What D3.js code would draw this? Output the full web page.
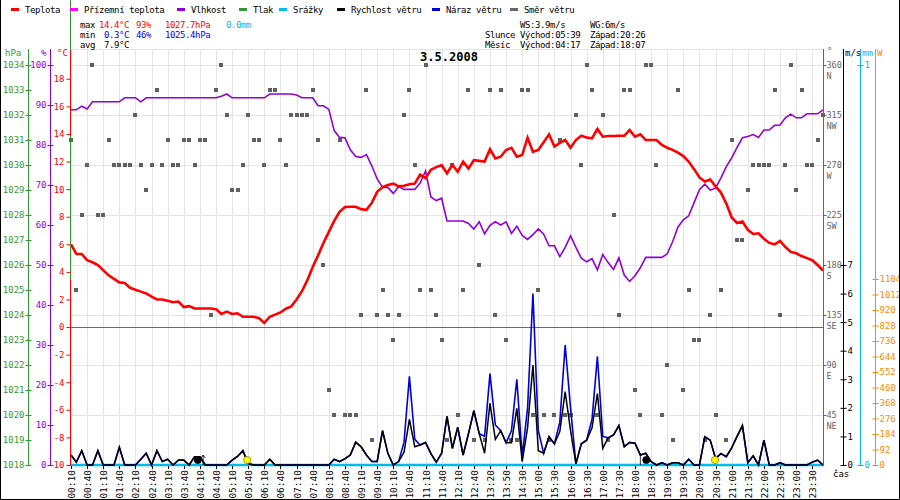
<!DOCTYPE html>
<html>
<head>
<meta charset="utf-8">
<script src="https://cdn.jsdelivr.net/npm/d3@7"></script>
<style>
body { margin: 0; background: #fff; }
svg { display: block; font-family: "DejaVu Sans Mono", monospace; }
</style>
</head>
<body>
<div id="chart"></div>
<script>
// x-axis labels (one every 3 records)
const timeLabels = ["00:10","00:40","01:10","01:40","02:10","02:40","03:10","03:40","04:10","04:40",
  "05:10","05:40","06:10","06:40","07:10","07:40","08:10","08:40","09:10","09:40","10:10","10:40",
  "11:10","11:40","12:10","12:40","13:20","13:50","14:30","15:00","15:30","16:00","16:30","17:00",
  "17:30","18:00","18:30","19:00","19:30","20:00","20:30","21:00","21:30","22:00","22:30","23:00","23:30"];

// °C, one value per record
const temperature = [6.0,5.3,5.3,4.85,4.7,4.5,4.13,3.75,3.5,3.24,
  3.2,2.85,2.7,2.57,2.44,2.2,2.0,2.0,1.9,1.8,
  1.85,1.45,1.52,1.35,1.35,1.35,1.35,1.3,0.95,1.12,
  0.95,1.0,0.75,0.75,0.75,0.65,0.3,0.75,0.9,1.06,
  1.33,1.5,2.0,2.6,3.4,4.35,5.2,6.1,6.9,7.7,
  8.36,8.7,8.72,8.72,8.55,8.5,9.0,9.8,10.15,10.3,
  10.4,10.2,10.25,10.35,10.4,11.05,10.8,11.4,11.6,11.75,
  11.15,11.75,11.26,11.99,11.5,12.1,12.05,12.0,12.9,12.23,
  12.35,12.84,13.0,12.35,12.47,13.73,12.71,12.84,13.4,13.97,
  13.08,13.35,13.56,13.0,13.56,13.87,13.75,13.68,14.36,13.8,
  13.85,13.85,13.87,13.87,14.29,13.8,13.97,13.56,13.56,13.56,
  13.2,13.0,12.85,12.65,12.4,12.0,11.45,10.85,10.55,10.7,
  10.2,9.75,8.95,7.95,7.55,7.65,7.05,6.75,6.8,6.4,
  6.1,6.0,6.25,5.8,5.45,5.35,5.15,5.0,4.85,4.5,
  4.1];

// %, one value per record
const humidity = [88.8,88.8,89.7,89.0,90.8,90.8,90.8,90.8,90.8,90.8,
  91.8,91.8,91.8,90.8,91.8,91.8,91.8,91.8,91.8,91.8,
  91.8,91.8,91.8,91.8,91.8,91.8,91.8,91.8,92.2,92.75,
  91.8,91.8,91.8,91.8,91.8,91.8,91.8,92.75,92.75,92.75,
  92.75,92.75,92.5,91.8,91.8,91.8,89.8,89.8,88.9,83.6,
  81.9,81.8,78.8,77.1,76.9,77.6,74.8,71.5,69.4,69.4,
  67.9,69.6,68.9,68.9,68.9,70.5,73.5,67.0,66.1,66.7,
  61,61,61,61,60.4,59,60.8,57.8,59.9,60.8,
  60,60.8,57.9,59.7,57.4,56.4,57.6,59,57.7,54.8,
  54.8,52.1,54.4,57.3,54.4,51.7,50.8,51.6,48.8,52.6,
  50.6,48.9,51.8,47.5,45.9,47.3,49.3,51.9,51.9,51.9,
  51.9,52.8,55.8,59.5,61.3,62.3,65.6,68.8,70.2,68.75,
  69.2,71.8,74.6,76.8,79.4,81.8,82.1,82.6,81.9,83.75,
  83.75,84.9,85,86.8,87.7,86.8,86.8,87.8,87.8,87.8,
  88.8];

// m/s
const windSpeed = [0.35,0.1,0.5,0,0,0.5,0,0,0,0.62,
  0,0,0,0.2,0.41,0,0.5,0.12,0.2,0,
  0.17,0.17,0,0.29,0.29,0,0,0,0,0,
  0.17,0.3,0.5,0.05,0,0,0,0.2,0,0,
  0,0,0,0,0,0,0,0,0,0.2,
  0.12,0.22,0.35,0.8,0.64,0.35,0.12,0.12,1.2,0.4,
  0,0.12,0.45,1.6,0.64,0.7,0.79,0.4,0.1,0.41,
  1.7,0.58,1.32,0.35,1.1,1.9,1.1,0.41,2.16,0.9,
  1.2,0.78,0.78,1.98,0.12,1.3,3.5,0.5,0.41,0.99,
  0.74,1.17,2.57,1.2,0.04,0.74,0.87,1.3,2.5,0.58,
  0.95,1.05,1.38,0.64,0.79,0.76,0.35,0.41,0.12,0,
  0.08,0,0.08,0.08,0,0.2,0,0,0.99,0.87,
  0.23,0.4,0.29,0.6,1.0,1.38,0.08,0.32,0,0.87,
  0,0,0.08,0,0,0,0,0,0.1,0.17,
  0];

const windGust = [0.35,0.1,0.5,0,0,0.5,0,0,0,0.62,
  0,0,0,0.2,0.41,0,0.5,0.12,0.2,0,
  0.17,0.17,0,0.29,0.29,0,0,0,0,0,
  0.17,0.3,0.5,0.05,0,0,0,0.2,0,0,
  0,0,0,0,0,0,0,0,0,0.2,
  0.12,0.22,0.35,0.8,0.64,0.35,0.12,0.12,1.2,0.4,
  0,0.12,0.8,3.1,0.9,0.7,0.79,0.4,0.1,0.41,
  1.7,0.58,1.32,0.35,1.1,1.9,1.1,1.0,3.2,1.4,
  1.2,0.78,1.2,3.0,0.3,2.0,6.0,1.2,0.41,0.99,
  0.74,1.5,4.2,2.0,0.04,0.74,0.87,1.6,3.8,1.0,
  0.95,1.05,1.38,0.64,0.79,0.76,0.35,0.41,0.12,0,
  0.08,0,0.08,0.08,0,0.2,0,0,0.99,0.87,
  0.23,0.4,0.29,0.6,1.0,1.38,0.08,0.32,0,0.87,
  0,0,0.08,0,0,0,0,0,0.1,0.17,
  0];

// degrees
const windDir = [292.5,157.5,225,270,360,225,225,292.5,270,270,
  270,270,315,270,247.5,270,337.5,270,292.5,270,
  270,292.5,292.5,270,292.5,292.5,135,337.5,360,315,
  247.5,247.5,270,315,292.5,292.5,270,337.5,337.5,292.5,
  270,315,315,315,315,337.5,292.5,180,67.5,45,
  292.5,45,45,45,135,337.5,22.5,135,157.5,135,
  112.5,135,315,337.5,270,157.5,360,157.5,135,112.5,
  22.5,270,45,157.5,337.5,22.5,180,22.5,337.5,135,
  337.5,112.5,22.5,22.5,337.5,337.5,45,157.5,45,22.5,
  45,292.5,45,45,315,270,360,337.5,45,315,
  22.5,225,135,337.5,337.5,67.5,45,360,360,270,
  45,90,22.5,337.5,67.5,157.5,112.5,112.5,22.5,135,
  45,157.5,22.5,292.5,202.5,202.5,247.5,270,270,270,
  270,337.5,135,270,360,247.5,337.5,270,270,292.5,
  315];

const groundTemp = 0;          // flat ground temperature line
const rainTotal = 0;           // mm
const pressureMin = 1025.4;

// sun / moon rise and set (record index)
const sunMoonAt = [23.6, 32.8, 107.1, 119.9];
const sunMoonKind = ["moon", "sun", "moon", "sun"];

const legendNames = ["Teplota","Přízemní teplota","Vlhkost","Tlak","Srážky","Rychlost větru","Náraz větru","Směr větru"];
const legendColors = ["#ff0000","#ff00ff","#9400d3","#339933","#00bbee","#000000","#0000dd","#666666"];

const statLabels = ["max","min","avg"];
const statTemp = ["14.4°C","0.3°C","7.9°C"];
const statHum = ["93%","46%",""];
const statPress = ["1027.7hPa","1025.4hPa",""];
const statRain = ["0.0mm","",""];
const statColors = ["#ff0000","#0000ff","#000000"];

const dirTicks = [45,90,135,180,225,270,315,360];
const dirNames = ["NE","E","SE","S","SW","W","NW","N"];
const solarTicks = [0,92,184,276,368,460,552,644,736,828,920,1012,1104];

const W = 900, H = 500;
const svg = d3.select("#chart").append("svg").attr("width", W).attr("height", H);

const x = d3.scaleLinear().domain([0, temperature.length - 1]).range([71, 823]);
const yT = d3.scaleLinear().domain([-10, 19]).range([465, 65]);
const yH = d3.scaleLinear().domain([0, 100]).range([465, 65]);
const yP = d3.scaleLinear().domain([1018, 1034]).range([465, 65]);
const yD = d3.scaleLinear().domain([0, 360]).range([465, 65]);
const yWs = d3.scaleLinear().domain([0, 7]).range([465, 265]);
const yR = d3.scaleLinear().domain([0, 1]).range([465, 65]);
const yS = d3.scaleLinear().domain([0, 1104]).range([465, 279]);

const FS = "9px";

// grid
const grid = svg.append("g").attr("stroke", "#e4e4e4").attr("stroke-width", 1);
timeLabels.forEach((t, k) => {
  const xx = Math.round(x(k * 3)) + 0.5;
  grid.append("line").attr("x1", xx).attr("x2", xx).attr("y1", 49).attr("y2", 465);
});
[0].concat(dirTicks).forEach(d => {
  const yy = Math.round(yD(d)) + 0.5;
  grid.append("line").attr("x1", 70).attr("x2", 823).attr("y1", yy).attr("y2", yy);
});
grid.append("line").attr("x1", 70).attr("x2", 823).attr("y1", 49.5).attr("y2", 49.5);

// wind direction squares
svg.append("g").selectAll("rect").data(windDir).join("rect")
  .attr("x", (d, i) => Math.round(x(i)) - 2)
  .attr("y", d => Math.round(yD(d)) - 2)
  .attr("width", 4).attr("height", 4)
  .attr("fill", "#606060");

// ground temperature (flat at 0)
svg.append("line")
  .attr("x1", 70).attr("x2", 823)
  .attr("y1", Math.round(yT(groundTemp)) + 0.5).attr("y2", Math.round(yT(groundTemp)) + 0.5)
  .attr("stroke", "#ff00ff").attr("stroke-width", 1);

// rain line at zero
svg.append("line")
  .attr("x1", 70).attr("x2", 823)
  .attr("y1", yR(rainTotal)).attr("y2", yR(rainTotal))
  .attr("stroke", "#00bbee").attr("stroke-width", 2.5);

const lineOf = (arr, ys) => d3.line().x((d, i) => x(i)).y(d => ys(d))(arr);

svg.append("path").attr("d", lineOf(windGust, yWs))
  .attr("fill", "none").attr("stroke", "#0000dd").attr("stroke-width", 1.6);
svg.append("path").attr("d", lineOf(windSpeed, yWs))
  .attr("fill", "none").attr("stroke", "#000").attr("stroke-width", 1.5);
svg.append("path").attr("d", lineOf(humidity, yH))
  .attr("fill", "none").attr("stroke", "#9400d3").attr("stroke-width", 1.6);
svg.append("path").attr("d", lineOf(temperature, yT))
  .attr("fill", "none").attr("stroke", "#ff0000").attr("stroke-width", 2.6);

// sun / moon markers
sunMoonAt.forEach((t, i) => {
  svg.append("circle").attr("cx", x(t)).attr("cy", 460).attr("r", 3.6)
    .attr("fill", sunMoonKind[i] === "sun" ? "#ffff00" : "#000")
    .attr("stroke", sunMoonKind[i] === "sun" ? "#888800" : "#000").attr("stroke-width", 0.8);
});
svg.append("path").attr("d", `M${x(24.6)},465V455M${x(24.6) - 2},458L${x(24.6)},455L${x(24.6) + 2},458`)
  .attr("stroke", "#000").attr("fill", "none").attr("stroke-width", 0.8);
svg.append("path").attr("d", `M${x(106)},453V465`)
  .attr("stroke", "#000").attr("fill", "none").attr("stroke-width", 0.8);

// left axes
function leftAxis(scale, ticks, ax, color, size, fmt) {
  const g = svg.append("g").attr("transform", `translate(${ax + size / 2},0)`)
    .call(d3.axisLeft(scale).tickValues(ticks).tickSize(size).tickPadding(1).tickFormat(fmt));
  g.attr("font-family", null).attr("font-size", FS);
  g.select(".domain").remove();
  g.selectAll("line").attr("stroke", color);
  g.selectAll("text").attr("fill", color);
  return g;
}
// pressure stub
svg.append("line").attr("x1", 70.5).attr("x2", 70.5).attr("y1", 0).attr("y2", yP(pressureMin))
  .attr("stroke", "#339933");
svg.append("line").attr("x1", 70.5).attr("x2", 70.5).attr("y1", 50).attr("y2", 136).attr("stroke", "#ff0000");
svg.append("line").attr("x1", 70.5).attr("x2", 70.5).attr("y1", yP(pressureMin)).attr("y2", 466).attr("stroke", "#ff0000");
svg.append("line").attr("x1", 28.5).attr("x2", 28.5).attr("y1", 49).attr("y2", 466).attr("stroke", "#339933");
svg.append("line").attr("x1", 50.5).attr("x2", 50.5).attr("y1", 49).attr("y2", 466).attr("stroke", "#9400d3");

leftAxis(yP, d3.range(1018, 1035), 28.5, "#339933", 6, d3.format("d"));
leftAxis(yH, d3.range(0, 101, 10), 50.5, "#9400d3", 6, d3.format("d"));
svg.append("g").attr("transform", "translate(70.5,0)")
  .call(d3.axisLeft(yT).tickValues(d3.range(-10, 19, 2)).tickSize(4).tickPadding(2).tickFormat(d => String(d)))
  .call(g => { g.attr("font-family", null).attr("font-size", FS); g.select(".domain").remove();
    g.selectAll("line").attr("stroke", "#ff0000"); g.selectAll("text").attr("fill", "#ff0000"); });

svg.append("text").attr("x", 5).attr("y", 56).attr("font-size", FS).attr("fill", "#339933").text("hPa");
svg.append("text").attr("x", 41).attr("y", 56).attr("font-size", FS).attr("fill", "#9400d3").text("%");
svg.append("text").attr("x", 57).attr("y", 56).attr("font-size", FS).attr("fill", "#ff0000").text("°C");

// right axes
function rightAxis(scale, ticks, ax, color, size, fmt) {
  svg.append("line").attr("x1", ax).attr("x2", ax).attr("y1", 49).attr("y2", 466).attr("stroke", color);
  const g = svg.append("g").attr("transform", `translate(${ax - size / 2},0)`)
    .call(d3.axisRight(scale).tickValues(ticks).tickSize(size).tickPadding(1).tickFormat(fmt));
  g.attr("font-family", null).attr("font-size", FS);
  g.select(".domain").remove();
  g.selectAll("line").attr("stroke", color);
  g.selectAll("text").attr("fill", color);
  return g;
}
svg.append("line").attr("x1", 823.5).attr("x2", 823.5).attr("y1", 49).attr("y2", 466).attr("stroke", "#666");
const dirG = svg.append("g").attr("transform", "translate(823.5,0)")
  .call(d3.axisRight(yD).tickValues(dirTicks).tickSize(3).tickPadding(0).tickFormat(d3.format("d")));
dirG.attr("font-family", null).attr("font-size", "8.5px");
dirG.select(".domain").remove();
dirG.selectAll("line").attr("stroke", "#666");
dirG.selectAll("text").attr("fill", "#666");
dirG.selectAll(".tick").append("text")
  .attr("x", 3).attr("y", 13).attr("fill", "#666").attr("font-size", "8.5px")
  .text((d, i) => dirNames[i]);

rightAxis(yWs, d3.range(0, 8), 843.5, "#000", 6, d3.format("d"));
rightAxis(yR, [0, 1], 860.5, "#00bbee", 6, d3.format("d"));
rightAxis(yS, solarTicks, 875.5, "#ff8800", 6, d3.format("d"));

svg.append("text").attr("x", 827).attr("y", 54).attr("font-size", FS).attr("fill", "#666").text("°");
svg.append("text").attr("x", 845).attr("y", 56).attr("font-size", FS).attr("fill", "#000").text("m/s");
svg.append("text").attr("x", 862).attr("y", 56).attr("font-size", FS).attr("fill", "#00bbee").text("mm");
svg.append("text").attr("x", 877).attr("y", 56).attr("font-size", FS).attr("fill", "#ff8800").text("W");

// x-axis labels
const xl = svg.append("g");
timeLabels.forEach((t, k) => {
  const xx = Math.round(x(k * 3)) + 0.5;
  xl.append("line").attr("x1", xx).attr("x2", xx).attr("y1", 466).attr("y2", 469).attr("stroke", "#000");
  xl.append("text").attr("transform", `translate(${xx},470) rotate(-90)`)
    .attr("text-anchor", "end").attr("dy", "0.35em").attr("font-size", "9.5px").text(t);
});
svg.append("text").attr("x", 833).attr("y", 477).attr("font-size", FS).text("čas");

// legend
const legendX = [11, 70, 177, 239, 279, 337, 432, 510];
legendNames.forEach((n, i) => {
  svg.append("rect").attr("x", legendX[i]).attr("y", 8).attr("width", 8).attr("height", 3).attr("fill", legendColors[i]);
  svg.append("text").attr("x", legendX[i] + 14).attr("y", 12.5).attr("font-size", FS)
    .attr("letter-spacing", "-0.4px").text(n);
});

// stats block
statLabels.forEach((s, r) => {
  const yy = 27.5 + r * 10;
  const c = statColors[r];
  svg.append("text").attr("x", 80).attr("y", yy).attr("font-size", FS).attr("letter-spacing", "-0.4px").text(s);
  svg.append("text").attr("x", 129).attr("y", yy).attr("text-anchor", "end").attr("font-size", FS)
    .attr("letter-spacing", "-0.4px").attr("fill", c).text(statTemp[r]);
  svg.append("text").attr("x", 136).attr("y", yy).attr("font-size", FS).attr("letter-spacing", "-0.4px").attr("fill", c).text(statHum[r]);
  svg.append("text").attr("x", 165).attr("y", yy).attr("font-size", FS).attr("letter-spacing", "-0.4px").attr("fill", c).text(statPress[r]);
  svg.append("text").attr("x", 226).attr("y", yy).attr("font-size", FS).attr("letter-spacing", "-0.4px").attr("fill", "#00bbee").text(statRain[r]);
});

const sunRows = [["", "WS:3.9m/s", "WG:6m/s"], ["Slunce", "Východ:05:39", "Západ:20:26"], ["Měsíc", "Východ:04:17", "Západ:18:07"]];
sunRows.forEach((row, r) => {
  const yy = 27.5 + r * 10;
  [485, 520, 590].forEach((xx, c) => {
    svg.append("text").attr("x", xx).attr("y", yy).attr("font-size", FS).attr("letter-spacing", "-0.4px").text(row[c]);
  });
});

// title
svg.append("text").attr("x", 449).attr("y", 61).attr("text-anchor", "middle")
  .attr("font-size", "12px").attr("font-weight", "bold").text("3.5.2008");

// frame
svg.append("path").attr("d", "M0.5,0V499.5H899.5V0").attr("fill", "none").attr("stroke", "#000");
</script>
</body>
</html>
